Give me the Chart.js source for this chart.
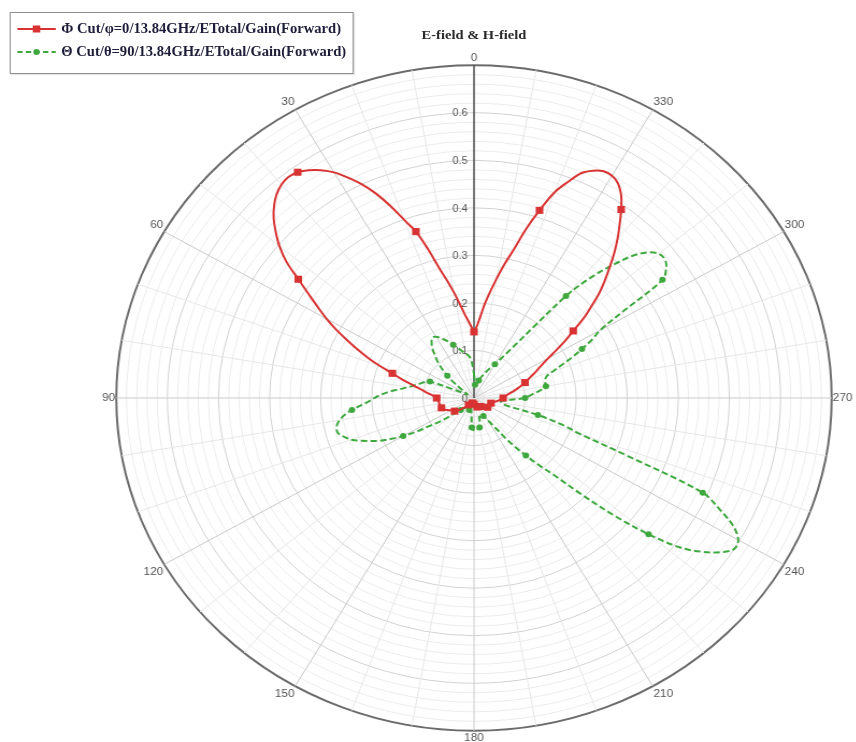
<!DOCTYPE html>
<html>
<head>
<meta charset="utf-8">
<script src="https://cdn.jsdelivr.net/npm/chart.js@4.4.1/dist/chart.umd.min.js"></script>
<style>
html,body{margin:0;padding:0;background:#fff;overflow:hidden;width:856px;height:742px;}
#wrap{position:absolute;left:0;top:0;width:812px;height:760px;transform:scaleX(1.0748);transform-origin:0 0;}
#chart{position:absolute;left:0;top:0;}
#title{position:absolute;left:0;width:882px;top:27px;text-align:center;font:bold 13.5px "Liberation Serif","Times New Roman",serif;color:#2a2a2a;white-space:nowrap;}
#legend{position:absolute;left:9px;top:12px;width:318px;height:60px;border:1px solid #8f8f8f;background:#fff;box-shadow:1px 1px 1px rgba(0,0,0,0.12);}
.lrow{position:absolute;left:0;height:16px;width:100%;}
.lrow svg{position:absolute;left:6px;top:2px;}
.lrow span{position:absolute;left:47px;top:0;font:bold 13.6px "Liberation Serif","Times New Roman",serif;color:#1e1e3a;white-space:nowrap;line-height:16px;}
</style>
</head>
<body>
<div id="wrap">
  <canvas id="chart" width="812" height="760"></canvas>
  <div id="title">E-field &amp; H-field</div>
  <div id="legend">
    <div class="lrow" style="top:8px">
      <svg width="36" height="12"><line x1="0" y1="6" x2="36" y2="6" stroke="#d83232" stroke-width="2"/><rect x="14.5" y="2.5" width="7" height="7" fill="#d83232"/></svg>
      <span>Φ Cut/φ=0/13.84GHz/ETotal/Gain(Forward)</span>
    </div>
    <div class="lrow" style="top:31px">
      <svg width="36" height="12"><line x1="0" y1="6" x2="36" y2="6" stroke="#3ea83e" stroke-width="2" stroke-dasharray="5,3"/><circle cx="18" cy="6" r="3" fill="#3ea83e"/></svg>
      <span>Θ Cut/θ=90/13.84GHz/ETotal/Gain(Forward)</span>
    </div>
  </div>
</div>
<script>
// angle (degrees, counter-clockwise from top) of each sample
const angleDegrees = [
  0,2,4,6,8,10,12,14,16,18,
  20,22,24,26,28,30,32,34,36,38,
  40,42,44,46,48,50,52,54,56,58,
  60,62,64,66,68,70,72,74,76,78,
  80,82,84,86,88,90,92,94,96,98,
  100,102,104,106,108,110,112,114,116,118,
  120,122,124,126,128,130,132,134,136,138,
  140,142,144,146,148,150,152,154,156,158,
  160,162,164,166,168,170,172,174,176,178,
  180,182,184,186,188,190,192,194,196,198,
  200,202,204,206,208,210,212,214,216,218,
  220,222,224,226,228,230,232,234,236,238,
  240,242,244,246,248,250,252,254,256,258,
  260,262,264,266,268,270,272,274,276,278,
  280,282,284,286,288,290,292,294,296,298,
  300,302,304,306,308,310,312,314,316,318,
  320,322,324,326,328,330,332,334,336,338,
  340,342,344,346,348,350,352,354,356,358
];

// Φ Cut/φ=0 gain (red)
const phiCutGain = [
  .139,.150,.163,.178,.200,.225,.252,.282,.325,.368,
  .398,.435,.470,.500,.525,.548,.565,.578,.587,.590,
  .586,.577,.563,.545,.522,.497,.466,.425,.390,.360,
  .333,.305,.275,.248,.222,.195,.168,.150,.133,.118,
  .106,.097,.089,.082,.076,.073,.072,.071,.070,.069,
  .069,.068,.068,.068,.067,.066,.064,.061,.058,.055,
  .052,.050,.048,.047,.044,.040,.036,.032,.028,.025,
  .022,.020,.018,.016,.014,.013,.012,.011,.011,.011,
  .011,.011,.011,.012,.012,.012,.012,.012,.012,.013,
  .013,.014,.014,.015,.015,.016,.017,.018,.019,.020,
  .021,.021,.022,.022,.022,.022,.022,.022,.022,.024,
  .026,.028,.030,.031,.032,.033,.033,.033,.033,.033,
  .033,.033,.034,.034,.034,.034,.035,.036,.038,.040,
  .043,.046,.049,.052,.055,.057,.059,.062,.066,.071,
  .077,.083,.090,.097,.105,.112,.120,.130,.140,.152,
  .168,.190,.215,.240,.272,.300,.330,.356,.382,.410,
  .437,.463,.490,.515,.532,.540,.540,.532,.518,.490,
  .460,.415,.370,.322,.288,.255,.225,.198,.170,.150
];

// Θ Cut/θ=90 gain (green)
const thetaCutGain = [
  .050,.065,.080,.088,.092,.095,.098,.103,.108,.113,
  .119,.125,.132,.138,.144,.149,.151,.148,.141,.132,
  .120,.110,.098,.085,.070,.055,.040,.028,.020,.016,
  .015,.018,.025,.045,.093,.100,.105,.110,.116,.123,
  .131,.142,.156,.170,.183,.195,.206,.222,.240,.256,
  .267,.274,.277,.275,.266,.256,.240,.222,.205,.183,
  .160,.135,.106,.088,.070,.052,.042,.036,.032,.030,
  .028,.026,.025,.024,.024,.024,.025,.025,.026,.026,
  .027,.027,.028,.028,.029,.030,.035,.045,.062,.066,
  .068,.069,.068,.066,.064,.063,.055,.045,.038,.036,
  .036,.037,.039,.042,.047,.054,.064,.078,.103,.130,
  .158,.190,.225,.290,.370,.446,.510,.550,.580,.600,
  .597,.575,.535,.490,.320,.220,.180,.130,.065,.058,
  .055,.053,.056,.065,.080,.100,.107,.115,.125,.135,
  .143,.143,.143,.145,.150,.165,.185,.210,.235,.262,
  .285,.345,.445,.465,.474,.472,.458,.430,.386,.340,
  .280,.190,.140,.112,.095,.082,.074,.068,.062,.057,
  .052,.047,.042,.038,.035,.031,.028,.027,.028,.038
];

const phiMarkerAngles = [0,18,36,54,72,90,108,126,144,162,180,198,216,234,252,270,288,306,324,342];
const thetaMarkerAngles = [20,48,68,96,120,134,160,176,190,206,220,230,246,254,270,280,296,304,320,330,346,356];

const angleTickLabels = ['0','30','60','90','120','150','180','210','240','270','300','330'];
const radialTickValues = [0,0.1,0.2,0.3,0.4,0.5,0.6];
const radialTickLabels = ['0','0.1','0.2','0.3','0.4','0.5','0.6'];

// radar scale runs clockwise from the top; the plot runs counter-clockwise
const n = angleDegrees.length;
const order = angleDegrees.map((_, i) => (n - i) % n);
const labels = order.map(k => String(angleDegrees[k]));
const phiData = order.map(k => phiCutGain[k]);
const thetaData = order.map(k => thetaCutGain[k]);
const phiMarks = new Set(phiMarkerAngles);
const thetaMarks = new Set(thetaMarkerAngles);
const angleLabelSet = new Set(angleTickLabels);
const angleAt = i => angleDegrees[order[i]];

const RED = '#d83232';
const GREEN = '#3ea83e';

const tickLabelPlugin = {
  id: 'radialTickLabels',
  beforeDatasetsDraw(chart) {
    const s = chart.scales.r;
    const ctx = chart.ctx;
    ctx.save();
    ctx.font = '10px "Liberation Sans", Arial, sans-serif';
    ctx.fillStyle = '#555';
    ctx.textAlign = 'right';
    ctx.textBaseline = 'middle';
    radialTickValues.forEach((v, i) => {
      const d = s.getDistanceFromCenterForValue(v);
      ctx.fillText(radialTickLabels[i], s.xCenter - 6, s.yCenter - d + 1);
    });
    ctx.restore();
  }
};

new Chart(document.getElementById('chart'), {
  type: 'radar',
  data: {
    labels: labels,
    datasets: [
      {
        label: 'Φ Cut/φ=0/13.84GHz/ETotal/Gain(Forward)',
        data: phiData,
        borderColor: RED,
        backgroundColor: RED,
        borderWidth: 2,
        fill: false,
        tension: 0.35,
        pointStyle: 'rect',
        pointRadius: c => (c.dataIndex !== undefined && phiMarks.has(angleAt(c.dataIndex))) ? 5 : 0,
        pointBorderWidth: 0,
        pointBackgroundColor: RED
      },
      {
        label: 'Θ Cut/θ=90/13.84GHz/ETotal/Gain(Forward)',
        data: thetaData,
        borderColor: GREEN,
        backgroundColor: GREEN,
        borderWidth: 2,
        borderDash: [6, 3],
        fill: false,
        tension: 0.35,
        pointStyle: 'circle',
        pointRadius: c => (c.dataIndex !== undefined && thetaMarks.has(angleAt(c.dataIndex))) ? 3 : 0,
        pointBorderWidth: 0,
        pointBackgroundColor: GREEN
      }
    ]
  },
  options: {
    responsive: false,
    animation: false,
    events: [],
    layout: { padding: { left: 71, right: 1, top: 52, bottom: 14 } },
    plugins: { legend: { display: false }, tooltip: { enabled: false }, title: { display: false } },
    scales: {
      r: {
        min: 0,
        max: 0.7,
        beginAtZero: true,
        ticks: { display: false, stepSize: 0.02 },
        grid: {
          circular: true,
          color: c => {
            const v = Math.round(c.tick.value * 100);
            if (v >= 70) return '#6b6b6b';
            if (v % 10 === 0) return '#d2d2d2';
            return '#ececec';
          },
          lineWidth: c => (Math.round(c.tick.value * 100) >= 70 ? 2 : 1)
        },
        angleLines: {
          display: true,
          color: c => {
            const a = angleAt(c.index);
            if (a === 0) return '#4a4a4a';
            if (a % 30 === 0) return '#c9c9c9';
            return '#e6e6e6';
          },
          lineWidth: c => {
            const a = angleAt(c.index);
            if (a === 0) return 1.5;
            if (a % 10 === 0) return 1;
            return 0;
          }
        },
        pointLabels: {
          display: true,
          padding: 1,
          color: '#555',
          font: { size: 11, family: '"Liberation Sans", Arial, sans-serif' },
          callback: (label) => (angleLabelSet.has(label) ? label : '')
        }
      }
    }
  },
  plugins: [tickLabelPlugin]
});
</script>
</body>
</html>
